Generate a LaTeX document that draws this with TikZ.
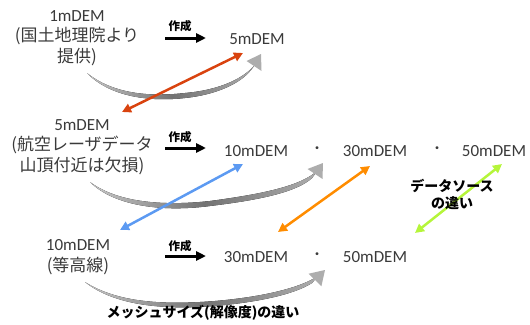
\documentclass[tikz,border=0pt]{standalone}
\usepackage{fontspec}
\setmainfont{Carlito}
\newfontfamily\jp{Noto Sans CJK JP}
\usetikzlibrary{arrows.meta}
\definecolor{txt}{HTML}{3A3A3A}
\definecolor{cred}{HTML}{D9430F}
\definecolor{cblue}{HTML}{5C9AF2}
\definecolor{corange}{HTML}{FF8C00}
\definecolor{cgreen}{HTML}{B5F53A}
\tikzset{
  blk/.style={align=center, text=txt, inner sep=0pt, font=\fontsize{17}{20.5}\selectfont},
  dem/.style={text=txt, inner sep=0pt, font=\fontsize{17}{20}\selectfont},
  dot/.style={text=txt, inner sep=0pt, font=\jp\fontsize{14}{16}\selectfont},
  lbl/.style={text=black, inner sep=0pt, font=\jp\bfseries\fontsize{11.5}{13}\selectfont},
  bl/.style={text=black, inner sep=0pt, align=center, font=\jp\bfseries\fontsize{14}{17}\selectfont},
  mk/.style={-{Triangle[length=10pt,width=9pt]}, line width=3pt, black},
  dbl/.style={{Triangle[length=9pt,width=9pt]}-{Triangle[length=9pt,width=9pt]}, line width=2.5pt},
  sw/.style={left color=black!22, right color=black!32, middle color=black!55, draw=none},
  swh/.style={fill=black!32, draw=none}
}
\begin{document}
\begin{tikzpicture}[x=1pt,y=-1pt]
\useasboundingbox (0,0) rectangle (530,324);
% left blocks
\node[blk] (b1) at (77,38) {1mDEM\\{\jp(国土地理院より}\\{\jp 提供)}};
\node[blk] (b2) at (82,147) {5mDEM\\{\jp(航空レーザデータ}\\{\jp 山頂付近は欠損)}};
\node[blk] (b3) at (78,257) {10mDEM\\{\jp(等高線)}};
% right texts
\node[dem] (r1) at (257,39) {5mDEM};
\node[dem] (r2a) at (256,151) {10mDEM};
\node[dot] (d2a) at (317,150) {・};
\node[dem] (r2b) at (375,151) {30mDEM};
\node[dot] (d2b) at (437,150) {・};
\node[dem] (r2c) at (494,151) {50mDEM};
\node[dem] (r3a) at (256,257) {30mDEM};
\node[dot] (d3a) at (317,256) {・};
\node[dem] (r3b) at (375,257) {50mDEM};
% create arrows
\coordinate (a1s) at (165,38); \coordinate (a1e) at (206,38);
\coordinate (a2s) at (165,148); \coordinate (a2e) at (206,148);
\coordinate (a3s) at (165,256); \coordinate (a3e) at (206,256);
\draw[mk] (a1s) -- (a1e);
\draw[mk] (a2s) -- (a2e);
\draw[mk] (a3s) -- (a3e);
\node[lbl] (l1) at (180,26) {作成};
\node[lbl] (l2) at (180,137) {作成};
\node[lbl] (l3) at (180,246) {作成};
% gray swooshes
\fill[sw] (87,73) .. controls (110,97) and (150,102) .. (185,98) .. controls (215,95) and (240,84) .. (251,70)
  -- (257,62) .. controls (246,78) and (220,90) .. (185,93) .. controls (150,97) and (113,94) .. (87,73) -- cycle;
\fill[swh] (246.5,61) -- (261.5,71) -- (261,54) -- cycle;
\fill[sw] (90,182) .. controls (115,207) and (165,212) .. (210,206) .. controls (260,200) and (297,192) .. (312,178)
  -- (318,170) .. controls (302,186) and (262,194) .. (210,201) .. controls (165,206) and (118,203) .. (90,182) -- cycle;
\fill[swh] (307.5,169) -- (322.5,179) -- (323,163) -- cycle;
\fill[sw] (85,282) .. controls (115,306) and (165,310) .. (215,306) .. controls (260,302) and (295,294) .. (312,283)
  -- (318,276) .. controls (300,288) and (262,297) .. (215,301) .. controls (165,305) and (118,303) .. (85,282) -- cycle;
\fill[swh] (308.6,273.7) -- (321.4,286.3) -- (325,270) -- cycle;
% double arrows
\coordinate (e1a) at (122,112); \coordinate (e1b) at (243,53);
\coordinate (e2a) at (120,230); \coordinate (e2b) at (243,164);
\coordinate (e3a) at (278,232); \coordinate (e3b) at (370,166);
\coordinate (e4a) at (415,233); \coordinate (e4b) at (502,164);
\draw[dbl, cred] (e1a) -- (e1b);
\draw[dbl, cblue] (e2a) -- (e2b);
\draw[dbl, corange] (e3a) -- (e3b);
\draw[dbl, cgreen] (e4a) -- (e4b);
% labels
\node[bl] (ds) at (452,194) {データソース\\の違い};
\node[bl] (ms) at (203,313) {メッシュサイズ(解像度)の違い};
\end{tikzpicture}
\end{document}
